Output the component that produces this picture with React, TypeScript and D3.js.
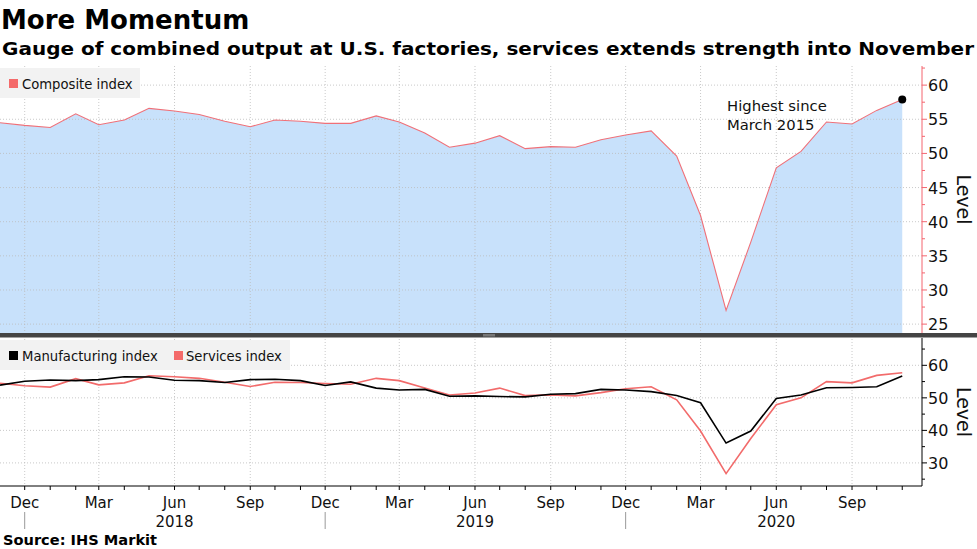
import React from "react";
import * as d3 from "d3";

// Monthly readings, Nov 2017 .. Nov 2020
const START_YEAR = 2017;
const START_MONTH = 10; // November (0-based)

const composite = [
  54.5, 54.1, 53.8, 55.8, 54.2, 54.9, 56.6, 56.2, 55.7, 54.7, 53.9, 54.9, 54.7,
  54.4, 54.4, 55.5, 54.6, 53.0, 50.9, 51.5, 52.6, 50.7, 51.0, 50.9, 52.0,
  52.7, 53.3, 49.6, 40.9, 27.0, 37.0, 47.9, 50.3, 54.6, 54.3, 56.3, 57.9,
];

const manufacturing = [
  53.9, 55.1, 55.5, 55.3, 55.6, 56.5, 56.4, 55.4, 55.3, 54.7, 55.6, 55.7, 55.3,
  53.8, 54.9, 53.0, 52.4, 52.6, 50.5, 50.6, 50.4, 50.3, 51.1, 51.3, 52.6,
  52.4, 51.9, 50.7, 48.5, 36.1, 39.8, 49.8, 50.9, 53.1, 53.2, 53.4, 56.7,
];

const services = [
  54.5, 53.7, 53.3, 55.9, 54.0, 54.6, 56.8, 56.5, 56.0, 54.8, 53.5, 54.8, 54.7,
  54.4, 54.2, 56.0, 55.3, 53.0, 50.9, 51.5, 53.0, 50.7, 50.9, 50.6, 51.6,
  52.8, 53.4, 49.4, 39.8, 26.7, 37.5, 47.9, 50.0, 55.0, 54.6, 56.9, 57.7,
];

const topTicks = [25, 30, 35, 40, 45, 50, 55, 60];
const topMinor = [27.5, 32.5, 37.5, 42.5, 47.5, 52.5, 57.5, 62.5];
const bottomTicks = [30, 40, 50, 60];
const bottomMinor = [25, 35, 45, 55, 65];
const monthNames = ["Jan", "Feb", "Mar", "Apr", "May", "Jun", "Jul", "Aug", "Sep", "Oct", "Nov", "Dec"];
const years = [2018, 2019, 2020];

const W = 977;
const H = 549;
const PLOT_R = 922;
const TOP = { y0: 66, y1: 333 };
const BOT = { y0: 338, y1: 486 };
const FONT = "DejaVu Sans, Verdana, sans-serif";

const dates = composite.map((_, i) => new Date(Date.UTC(START_YEAR, START_MONTH + i, 1)));

const x = d3
  .scaleUtc()
  .domain([new Date(Date.UTC(2017, 10, 1)), new Date(Date.UTC(2020, 10, 25))])
  .range([0, PLOT_R]);

const yTop = d3.scaleLinear().domain([23.7, 62.8]).range([TOP.y1, TOP.y0]);
const yBot = d3.scaleLinear().domain([22.9, 68.4]).range([BOT.y1, BOT.y0]);

const monthTicks = x.ticks(d3.utcMonth.every(1)!).filter((d) => x(d) > 1);
const quarterTicks = monthTicks.filter((d) => [2, 5, 8, 11].includes(d.getUTCMonth()));

const App: React.FC = () => {
  const area = d3
    .area<number>()
    .x((_, i) => x(dates[i]))
    .y0(TOP.y1)
    .y1((d) => yTop(d));
  const lineTop = d3
    .line<number>()
    .x((_, i) => x(dates[i]))
    .y((d) => yTop(d));
  const lineBot = d3
    .line<number>()
    .x((_, i) => x(dates[i]))
    .y((d) => yBot(d));

  const last = composite.length - 1;

  return (
    <svg
      width={W}
      height={H}
      style={{ position: "absolute", left: 0, top: 0, background: "#fff" }}
      fontFamily={FONT}
    >
      {/* titles */}
      <text x={1} y={29} fontSize={26} fontWeight="bold" fill="#000">
        More Momentum
      </text>
      <text x={2} y={55} fontSize={17.5} fontWeight="bold" fill="#000" textLength={972} lengthAdjust="spacingAndGlyphs">
        Gauge of combined output at U.S. factories, services extends strength into November
      </text>

      {/* top panel */}
      <path d={area(composite) ?? ""} fill="#c8e1fb" />
      {quarterTicks.map((d) => (
        <line key={"vg" + d.getTime()} x1={x(d)} x2={x(d)} y1={TOP.y0} y2={BOT.y1} stroke="#bbb" strokeDasharray="1,2" strokeWidth={0.8} />
      ))}
      {topTicks.map((t) => (
        <line key={"hg" + t} x1={0} x2={PLOT_R} y1={yTop(t)} y2={yTop(t)} stroke="#bbb" strokeDasharray="1,2" strokeWidth={0.8} />
      ))}
      <path d={lineTop(composite) ?? ""} fill="none" stroke="#f07078" strokeWidth={1.1} />
      <circle cx={x(dates[last])} cy={yTop(composite[last])} r={4} fill="#000" />
      <text x={727} y={111} fontSize={14.8} fill="#111">Highest since</text>
      <text x={727} y={130} fontSize={14.8} fill="#111">March 2015</text>

      <rect x={0} y={68} width={140} height={30} fill="#f2f2f2" />
      <rect x={9} y={79} width={9} height={9} fill="#f46a6a" />
      <text x={22} y={89} fontSize={13.2} fill="#111">Composite index</text>

      {/* top right axis */}
      <line x1={PLOT_R} x2={PLOT_R} y1={TOP.y0} y2={TOP.y1} stroke="#f4646e" strokeWidth={1} />
      {topTicks.map((t) => (
        <g key={"tt" + t}>
          <line x1={PLOT_R} x2={PLOT_R + 5} y1={yTop(t)} y2={yTop(t)} stroke="#f4646e" />
          <text x={PLOT_R + 6} y={yTop(t) + 6} fontSize={16} fill="#111">{t}</text>
        </g>
      ))}
      {topMinor.map((t) => (
        <line key={"tm" + t} x1={PLOT_R} x2={PLOT_R + 3} y1={yTop(t)} y2={yTop(t)} stroke="#f4646e" />
      ))}
      <text transform={`translate(957,${(TOP.y0 + TOP.y1) / 2}) rotate(90)`} textAnchor="middle" fontSize={19} fill="#111">
        Level
      </text>

      {/* separator */}
      <rect x={0} y={333} width={W} height={4.5} fill="#444" />
      <rect x={483} y={334} width={12} height={2.5} fill="#777" />

      {/* bottom panel */}
      {bottomTicks.map((t) => (
        <line key={"bg" + t} x1={0} x2={PLOT_R} y1={yBot(t)} y2={yBot(t)} stroke="#bbb" strokeDasharray="1,2" strokeWidth={0.8} />
      ))}
      <path d={lineBot(services) ?? ""} fill="none" stroke="#f26b6b" strokeWidth={1.6} />
      <path d={lineBot(manufacturing) ?? ""} fill="none" stroke="#000" strokeWidth={1.6} />

      <rect x={0} y={340} width={290} height={30} fill="#f2f2f2" />
      <rect x={9} y={351} width={9} height={9} fill="#000" />
      <text x={22} y={361} fontSize={13.2} fill="#111">Manufacturing index</text>
      <rect x={174} y={351} width={9} height={9} fill="#f46a6a" />
      <text x={186} y={361} fontSize={13.2} fill="#111">Services index</text>

      {/* bottom right axis */}
      <line x1={PLOT_R} x2={PLOT_R} y1={BOT.y0} y2={BOT.y1} stroke="#000" />
      {bottomTicks.map((t) => (
        <g key={"bt" + t}>
          <line x1={PLOT_R} x2={PLOT_R + 5} y1={yBot(t)} y2={yBot(t)} stroke="#000" />
          <text x={PLOT_R + 6} y={yBot(t) + 6} fontSize={16} fill="#111">{t}</text>
        </g>
      ))}
      {bottomMinor.map((t) => (
        <line key={"bm" + t} x1={PLOT_R} x2={PLOT_R + 3} y1={yBot(t)} y2={yBot(t)} stroke="#000" />
      ))}
      <text transform={`translate(957,${(BOT.y0 + BOT.y1) / 2}) rotate(90)`} textAnchor="middle" fontSize={19} fill="#111">
        Level
      </text>

      {/* x axis */}
      <line x1={0} x2={PLOT_R} y1={BOT.y1} y2={BOT.y1} stroke="#000" />
      {monthTicks.map((d) => (
        <line key={"mt" + d.getTime()} x1={x(d)} x2={x(d)} y1={BOT.y1} y2={BOT.y1 + 4} stroke="#000" />
      ))}
      {quarterTicks.map((d) => (
        <text key={"ql" + d.getTime()} x={x(d)} y={508} textAnchor="middle" fontSize={15} fill="#111">
          {monthNames[d.getUTCMonth()]}
        </text>
      ))}
      {quarterTicks
        .filter((d) => d.getUTCMonth() === 11)
        .map((d) => (
          <line key={"ys" + d.getTime()} x1={x(d)} x2={x(d)} y1={512} y2={529} stroke="#999" />
        ))}
      {years.map((yr) => (
        <text key={"yr" + yr} x={x(new Date(Date.UTC(yr, 5, 1)))} y={527} textAnchor="middle" fontSize={15} fill="#111">
          {yr}
        </text>
      ))}

      <text x={3} y={545} fontSize={14.6} fontWeight="bold" fill="#000">
        Source: IHS Markit
      </text>
    </svg>
  );
};

export default App;
